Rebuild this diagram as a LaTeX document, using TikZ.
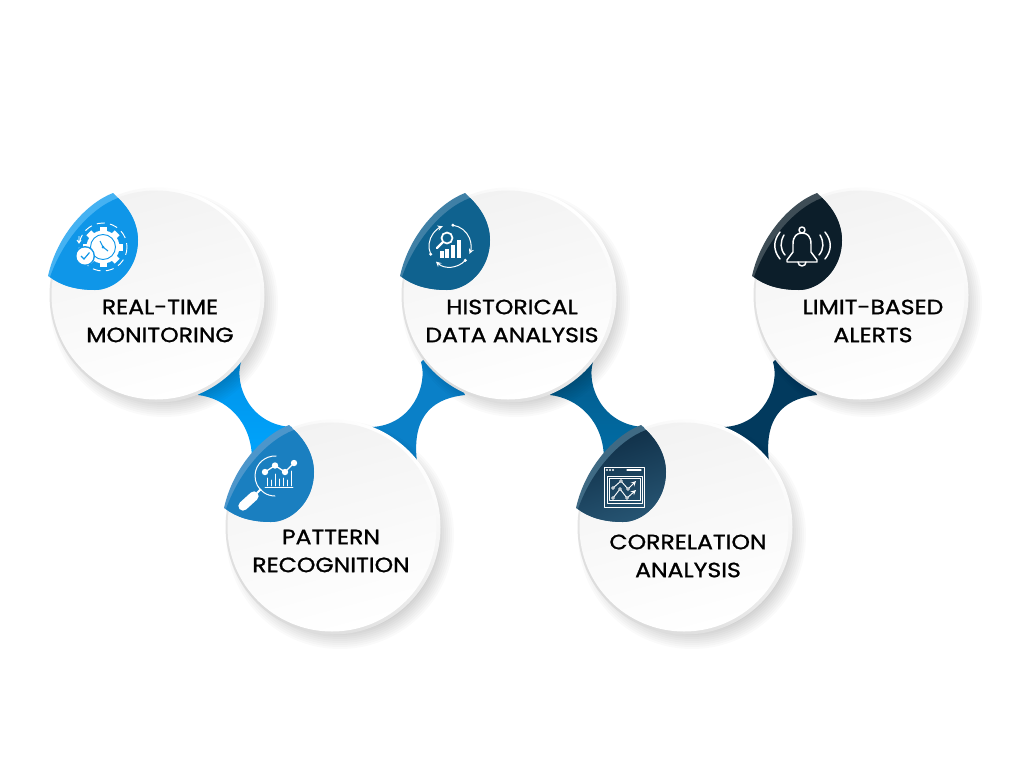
\documentclass[tikz,border=0pt]{standalone}
\usepackage{fontspec}
\setmainfont[FakeBold=1.1,FakeStretch=1.14]{Poppins}
\usetikzlibrary{calc}
\definecolor{cA}{HTML}{0F96E8}\definecolor{cAr}{HTML}{45B2F2}
\definecolor{cB}{HTML}{1A7FC0}\definecolor{cBr}{HTML}{4C96CB}
\definecolor{cC}{HTML}{0F628F}\definecolor{cCr}{HTML}{3F80A6}
\definecolor{cD}{HTML}{0F2E46}\definecolor{cDb}{HTML}{265472}\definecolor{cDr}{HTML}{3F6A84}
\definecolor{cE}{HTML}{0C1E2A}\definecolor{cEr}{HTML}{3E4D56}
\definecolor{lA}{HTML}{0091E6}\definecolor{lAb}{HTML}{00A6FF}
\definecolor{lB}{HTML}{0A80C8}\definecolor{lC}{HTML}{04598A}\definecolor{lCb}{HTML}{006FA8}
\definecolor{lD}{HTML}{023A5E}
\tikzset{
  label text/.style={align=center,font=\fontsize{15.5}{21}\selectfont,text=black,inner sep=0pt},
  ic/.style={draw=white,line width=0.75pt,line cap=round,line join=round},
}
\newcommand{\disc}[5]{% cx cy fill rim name
 \begin{scope}[shift={(#1,#2)}]
  \foreach \r in {98,100,...,114}{\fill[black,opacity=0.02] (7,8) circle[radius=\r];}
  \shade[left color=white,right color=black!14,shading angle=-35] (0,0) circle[radius=107.5];
  \shade[top color=black!5,bottom color=white,shading angle=15] (-1,0) circle[radius=104.5];
  \fill[#4] (-44,-102) .. controls (-70,-92) and (-100,-60) .. (-109,-19)
     .. controls (-97,-10) and (-82,-5) .. (-62,-5)
     .. controls (-42,-5) and (-19,-25) .. (-19,-55)
     .. controls (-19,-70) and (-27,-87) .. (-44,-102) -- cycle;
  \path[#3] (-39,-97) .. controls (-66,-87) and (-94,-55) .. (-107,-18)
     .. controls (-97,-10) and (-82,-5) .. (-62,-5)
     .. controls (-42,-5) and (-19,-25) .. (-19,-55)
     .. controls (-19,-70) and (-26,-85) .. (-39,-97) -- cycle;
 \end{scope}}
\begin{document}
\begin{tikzpicture}[x=0.75pt,y=-0.75pt,>=stealth]
\useasboundingbox (0,0) rectangle (1024,768);
\fill[white] (0,0) rectangle (1024,768);
% connectors
\foreach \dx/\ca/\cb/\cc/\cd in {0/lA/lAb/lB/lB,352/lC/lCb/lD/lD}{
 \begin{scope}[xshift=\dx*0.75pt]
  \shade[top color=\ca,bottom color=\cb] (198,395) -- (225,350) -- (241,362) .. controls (234,385) and (250,425) .. (292,427)
     -- (300,470) -- (252,470) -- (252,460) .. controls (252,420) and (225,398) .. (198,395) -- cycle;
  \fill[\cc] (465,395) -- (440,345) -- (421,362) .. controls (428,385) and (412,425) .. (372,427)
     -- (380,470) -- (417,470) -- (417,462) .. controls (411,412) and (437,398) .. (465,395) -- cycle;
 \end{scope}}
% discs
\disc{157}{295}{fill=cA}{cAr}{}
\disc{333}{527}{fill=cB}{cBr}{}
\disc{509}{295}{fill=cC}{cCr}{}
\disc{685}{527}{shade,left color=cD,right color=cDb,shading angle=20}{cDr}{}
\disc{861}{295}{fill=cE}{cEr}{}
% icon 1: gear, clock, check
\begin{scope}[shift={(103,247)}]
  \foreach \a in {0,45,...,315}{\fill[white,rotate=\a] (-3.5,-20) rectangle (3.5,-14);}
  \fill[white] (0,0) circle[radius=16.5];
  \draw[cA,line width=0.7pt] (0,0) circle[radius=12.5];
  \draw[cA,line width=0.8pt] (-3,-6) -- (0,0) -- (5,4);
  \fill[cA] (0,0) circle[radius=1.5];
  \draw[white,line width=0.7pt,dash pattern=on 6pt off 4pt] (0,0) circle[radius=24];
  \fill[cA] (-18,9) circle[radius=10];
  \fill[white] (-18,9) circle[radius=8.5];
  \draw[cA,line width=0.9pt] (-22,9) -- (-19,12) -- (-13.5,5.5);
  \draw[white,line width=0.7pt] (-24,-11) -- (-24,-5) (-26,-7) -- (-24,-4) -- (-22,-7);
\end{scope}
% icon 2: magnifier with chart
\begin{scope}[shift={(275,476)}]
  \draw[ic] (-87:20) arc[start angle=-87,end angle=-270,radius=20];
  \draw[ic,line width=1pt] (-10,-4) -- (0,-10.5) -- (10,-4) -- (19,-13);
  \foreach \p in {(-10,-4),(0,-10.5),(10,-4),(19,-13)}{\fill[white] \p circle[radius=3.2];}
  \draw[ic,line width=0.6pt] (-10,11) -- (18,11);
  \foreach \x/\h in {-8/8,-4/6,0/12,4/7,8/8,12/6,16/15}{\draw[ic,line width=0.6pt] (\x,10) -- (\x,10-\h);}
  \draw[white,line width=1.5pt] (-14,13) -- (-18,17);
  \draw[white,line width=7pt,line cap=round] (-21,20) -- (-32,30);
\end{scope}
% icon 3: cycle with magnifier and bars
\begin{scope}[shift={(450,246)}]
  \draw[ic,->] (157:21) arc[start angle=157,end angle=250,radius=21];
  \draw[ic,->] (278:21) arc[start angle=278,end angle=382,radius=21];
  \draw[ic,->] (43:21) arc[start angle=43,end angle=132,radius=21];
  \fill[white] (157:21) circle[radius=1.7] (278:21) circle[radius=1.7] (43:21) circle[radius=1.7];
  \draw[white,line width=1.3pt] (-3,-8) circle[radius=5.5];
  \draw[white,line width=1.8pt,line cap=round] (-7,-4) -- (-13,2);
  \foreach \x/\h in {-8/7,-3/9,3/13,9/18}{\fill[white] (\x-2,12) rectangle (\x+2,12-\h);}
\end{scope}
% icon 4: window with charts
\begin{scope}[shift={(624,487)}]
  \draw[ic,line width=0.7pt] (-20,-20) rectangle (20,20);
  \draw[ic,line width=0.7pt] (-17,-10.5) rectangle (18,16);
  \draw[ic,line width=0.6pt] (-15,-8.5) rectangle (16,13.5);
  \foreach \x in {-17,-14,-11}{\fill[white] (\x,-17) circle[radius=1.1];}
  \draw[ic,line width=0.8pt] (3,-17) -- (17,-17);
  \draw[ic,->,line width=0.7pt] (-11,1) -- (-3,-6) -- (4,2) -- (12,-6);
  \draw[ic,->,line width=0.7pt] (-11,11) -- (-4,2) -- (3,11) -- (12,3);
  \foreach \p in {(-11,1),(-3,-6),(4,2),(-11,11),(-4,2),(3,11)}{\draw[white,line width=0.6pt,fill=cD] \p circle[radius=1.4];}
\end{scope}
% icon 5: bell
\begin{scope}[shift={(802,247)}]
  \draw[ic,line width=1.1pt] (-15,15) -- (-15,13) -- (-9,5) -- (-9,-3) .. controls (-9,-11) and (-5,-14) .. (0,-14)
     .. controls (5,-14) and (9,-11) .. (9,-3) -- (9,5) -- (15,13) -- (15,15) -- cycle;
  \draw[ic,line width=1.1pt] (0,-17) circle[radius=3];
  \draw[ic,line width=1.1pt] (-4,15) arc[start angle=180,end angle=0,radius=4];
  \draw[ic,line width=1.1pt] (-18,-12) .. controls (-22,-5) and (-22,2) .. (-17,8);
  \draw[ic,line width=1.1pt] (-22,-15) .. controls (-29,-6) and (-29,3) .. (-22,12);
  \draw[ic,line width=1.1pt] (18,-12) .. controls (22,-5) and (22,2) .. (17,8);
  \draw[ic,line width=1.1pt] (23,-15) .. controls (30,-6) and (30,3) .. (23,12);
\end{scope}
% labels
\node[label text] (t1) at (160,321) {REAL-TIME\\MONITORING};
\node[label text] (t2) at (331,551) {PATTERN\\RECOGNITION};
\node[label text] (t3) at (512,321) {HISTORICAL\\DATA ANALYSIS};
\node[label text] (t4) at (688,556) {CORRELATION\\ANALYSIS};
\node[label text] (t5) at (873,321) {LIMIT-BASED\\ALERTS};
\end{tikzpicture}
\end{document}
